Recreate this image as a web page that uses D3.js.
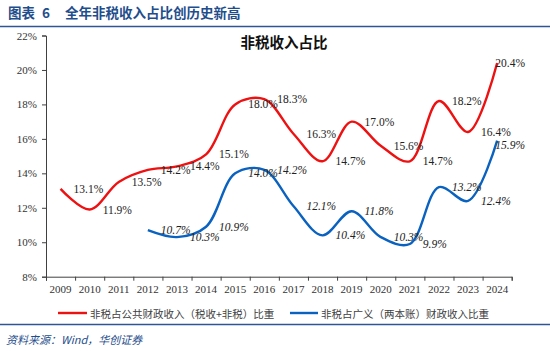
<!DOCTYPE html>
<html><head><meta charset="utf-8">
<script src="https://cdn.jsdelivr.net/npm/d3@7"></script>
<style>body{margin:0;background:#fff}svg{display:block}</style>
</head><body>
<svg id="c" width="550" height="351"></svg>
<script>
const years = ["2009","2010","2011","2012","2013","2014","2015","2016","2017","2018","2019","2020","2021","2022","2023","2024"];
const redValues = [13.1,11.9,13.5,14.2,14.4,15.1,18.0,18.3,16.3,14.7,17.0,15.6,14.7,18.2,16.4,20.4];
const blueYears = ["2012","2013","2014","2015","2016","2017","2018","2019","2020","2021","2022","2023","2024"];
const blueValues = [10.7,10.3,10.9,14.0,14.2,12.1,10.4,11.8,10.3,9.9,13.2,12.4,15.9];
const yTicks = [8,10,12,14,16,18,20,22];
const redName = "非税占公共财政收入（税收+非税）比重";
const blueName = "非税占广义（两本账）财政收入比重";
const chartTitle = "非税收入占比";
const headerLabel = "图表";
const headerNum = "6";
const headerText = "全年非税收入占比创历史新高";
const sourceText = "资料来源：Wind，华创证券";

const svg = d3.select("#c");
const serif = "'Liberation Serif','Times New Roman',serif";
const cjk = "'Noto Sans CJK SC','Noto Sans',sans-serif";
const hdrBlue = "#1f4e8c";
const RED = "#ee1111", BLUE = "#0a62c0";

// header
svg.append("text").attr("x",8).attr("y",18).attr("font-family",cjk).attr("font-weight",700)
  .attr("font-size",13.5).attr("fill",hdrBlue).text(headerLabel);
svg.append("text").attr("x",42).attr("y",18).attr("font-family",cjk).attr("font-weight",700)
  .attr("font-size",13.5).attr("fill",hdrBlue).text(headerNum);
svg.append("text").attr("x",65).attr("y",18).attr("font-family",cjk).attr("font-weight",700)
  .attr("font-size",13.5).attr("fill",hdrBlue).text(headerText);
svg.append("line").attr("x1",0).attr("x2",550).attr("y1",26.5).attr("y2",26.5)
  .attr("stroke","#2f5597").attr("stroke-width",1.6);

const x0 = 46, x1 = 511.7, yTop = 35.5, yBot = 276.7;
const x = d3.scaleBand().domain(years).range([x0,x1]);
const xi = d3.scaleLinear().domain([0,years.length]).range([x0,x1]);
const y = d3.scaleLinear().domain([8,22]).range([yBot,yTop]);
const cx = d => x(d) + x.bandwidth()/2;

// y axis
const ya = svg.append("g").attr("transform",`translate(${x0},0)`)
  .call(d3.axisLeft(y).tickValues(yTicks).tickSize(4).tickPadding(5).tickFormat(d=>d+"%"));
ya.select(".domain").attr("stroke","#404040");
ya.selectAll(".tick line").attr("stroke","#404040");
ya.selectAll("text").attr("font-family",serif).attr("font-size",11).attr("fill","#333");

// x axis
const xa = svg.append("g").attr("transform",`translate(0,${yBot})`)
  .call(d3.axisBottom(xi).tickValues(d3.range(years.length+1)).tickSize(4).tickFormat(""));
xa.select(".domain").attr("stroke","#404040");
xa.selectAll(".tick line").attr("stroke","#404040");
const xl = svg.append("g").attr("transform",`translate(0,${yBot})`)
  .call(d3.axisBottom(x).tickSize(0).tickPadding(9));
xl.select(".domain").remove();
xl.selectAll("text").attr("font-family",serif).attr("font-size",11).attr("fill","#333");

// chart title
svg.append("text").attr("x",284).attr("y",48).attr("text-anchor","middle").attr("font-family",cjk)
  .attr("font-weight",700).attr("font-size",14.5).attr("fill","#111").text(chartTitle);

const line = d3.line().x(d=>cx(d[0])).y(d=>y(d[1])).curve(d3.curveCatmullRom.alpha(0.5));
const redData = years.map((yr,i)=>[yr,redValues[i]]);
const blueData = blueYears.map((yr,i)=>[yr,blueValues[i]]);
svg.append("path").attr("d",line(redData)).attr("fill","none").attr("stroke",RED).attr("stroke-width",2.4);
svg.append("path").attr("d",line(blueData)).attr("fill","none").attr("stroke",BLUE).attr("stroke-width",2.4);

// data labels: right of point, kept inside the chart; blue ones avoid red ones
const placedRed = [];
function labels(data, italic, avoid, store){
  data.forEach(d=>{
    const t = svg.append("text").attr("font-family",serif).attr("font-size",11.5).attr("fill","#222")
      .attr("font-style",italic?"italic":"normal").attr("dominant-baseline","central")
      .text(d[1].toFixed(1)+"%");
    const w = t.node().getComputedTextLength();
    let lx = cx(d[0]) + 13;
    if (lx + w > 525) lx = 525 - w;
    let ly = y(d[1]);
    if (avoid) avoid.forEach(p=>{
      if (lx < p.x + p.w && lx + w > p.x && Math.abs(ly - p.y) < 11) ly = p.y + 13;
    });
    t.attr("x",lx).attr("y",ly);
    if (store) store.push({x:lx,y:ly,w:w});
  });
}
labels(redData,false,null,placedRed);
labels(blueData,true,placedRed,null);

// legend
const ly = 313;
svg.append("line").attr("x1",58).attr("x2",87).attr("y1",ly).attr("y2",ly).attr("stroke",RED).attr("stroke-width",2.4);
svg.append("text").attr("x",90).attr("y",ly).attr("dominant-baseline","central").attr("font-family",cjk)
  .attr("font-size",10.5).attr("fill","#404040").text(redName);
svg.append("line").attr("x1",290).attr("x2",318).attr("y1",ly).attr("y2",ly).attr("stroke",BLUE).attr("stroke-width",2.4);
svg.append("text").attr("x",321).attr("y",ly).attr("dominant-baseline","central").attr("font-family",cjk)
  .attr("font-size",10.5).attr("fill","#404040").text(blueName);

// footer
svg.append("line").attr("x1",0).attr("x2",550).attr("y1",324.5).attr("y2",324.5)
  .attr("stroke","#2f5597").attr("stroke-width",1.6);
svg.append("text").attr("x",6).attr("y",339).attr("dominant-baseline","central").attr("font-family",cjk)
  .attr("font-style","italic").attr("font-size",11).attr("fill",hdrBlue).text(sourceText);
</script>
</body></html>
